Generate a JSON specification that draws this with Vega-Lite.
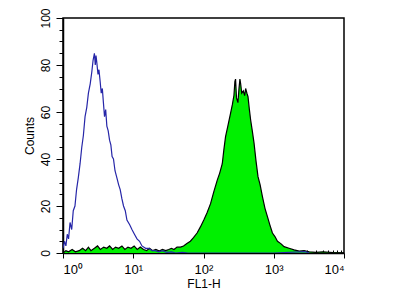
{
  "$schema": "https://vega.github.io/schema/vega-lite/v6.json",
  "width": 281,
  "height": 235,
  "autosize": {"type": "none"},
  "padding": {"left": 63, "top": 18, "right": 56, "bottom": 53},
  "background": "white",
  "config": {
    "view": {"stroke": "black", "strokeWidth": 1.5},
    "font": "Liberation Sans",
    "axis": {"grid": false, "domainColor": "black", "tickColor": "black", "labelColor": "black", "titleColor": "black", "labelFont": "Liberation Sans", "titleFont": "Liberation Sans", "titleFontWeight": "normal"}
  },
  "datasets": {
    "blue": [
      {"fl1": 1.0, "count": 2}, {"fl1": 1.05, "count": 5}, {"fl1": 1.1, "count": 3}, {"fl1": 1.15, "count": 8},
      {"fl1": 1.2, "count": 6}, {"fl1": 1.26, "count": 13}, {"fl1": 1.33, "count": 10}, {"fl1": 1.4, "count": 18},
      {"fl1": 1.48, "count": 20}, {"fl1": 1.56, "count": 27}, {"fl1": 1.65, "count": 32}, {"fl1": 1.75, "count": 38},
      {"fl1": 1.85, "count": 45}, {"fl1": 1.95, "count": 50}, {"fl1": 2.06, "count": 58}, {"fl1": 2.18, "count": 62},
      {"fl1": 2.3, "count": 68}, {"fl1": 2.44, "count": 72}, {"fl1": 2.57, "count": 77}, {"fl1": 2.68, "count": 82},
      {"fl1": 2.8, "count": 85}, {"fl1": 2.88, "count": 80}, {"fl1": 2.95, "count": 84}, {"fl1": 3.03, "count": 81},
      {"fl1": 3.15, "count": 76}, {"fl1": 3.25, "count": 78}, {"fl1": 3.38, "count": 73}, {"fl1": 3.5, "count": 68},
      {"fl1": 3.63, "count": 70}, {"fl1": 3.76, "count": 64}, {"fl1": 3.9, "count": 58}, {"fl1": 4.05, "count": 61},
      {"fl1": 4.21, "count": 54}, {"fl1": 4.4, "count": 52}, {"fl1": 4.6, "count": 48}, {"fl1": 4.8, "count": 46},
      {"fl1": 5.0, "count": 41}, {"fl1": 5.23, "count": 40}, {"fl1": 5.5, "count": 35}, {"fl1": 5.85, "count": 32},
      {"fl1": 6.2, "count": 29}, {"fl1": 6.52, "count": 27}, {"fl1": 6.9, "count": 23}, {"fl1": 7.27, "count": 20},
      {"fl1": 7.7, "count": 18}, {"fl1": 8.13, "count": 14}, {"fl1": 8.9, "count": 12}, {"fl1": 9.58, "count": 10},
      {"fl1": 10.4, "count": 8}, {"fl1": 11.3, "count": 6}, {"fl1": 12.3, "count": 5}, {"fl1": 13.3, "count": 3},
      {"fl1": 15, "count": 2}, {"fl1": 16.6, "count": 2}, {"fl1": 18.5, "count": 1}, {"fl1": 20.6, "count": 1},
      {"fl1": 23, "count": 0.5}, {"fl1": 26, "count": 1}, {"fl1": 30, "count": 0.3}, {"fl1": 35, "count": 0.5},
      {"fl1": 40, "count": 0}, {"fl1": 50, "count": 0.3}, {"fl1": 60, "count": 0}, {"fl1": 100, "count": 0},
      {"fl1": 1000, "count": 0}, {"fl1": 2800, "count": 0.6}, {"fl1": 3200, "count": 0}
    ],
    "green": [
      {"fl1": 1.0, "count": 0}, {"fl1": 1.1, "count": 1}, {"fl1": 1.2, "count": 0.5}, {"fl1": 1.35, "count": 1.5},
      {"fl1": 1.5, "count": 0.5}, {"fl1": 1.7, "count": 1}, {"fl1": 1.9, "count": 2}, {"fl1": 2.1, "count": 1},
      {"fl1": 2.3, "count": 2.5}, {"fl1": 2.5, "count": 1}, {"fl1": 2.8, "count": 2}, {"fl1": 3.1, "count": 3},
      {"fl1": 3.4, "count": 1.5}, {"fl1": 3.8, "count": 2.5}, {"fl1": 4.2, "count": 2}, {"fl1": 4.6, "count": 3},
      {"fl1": 5.1, "count": 1.5}, {"fl1": 5.6, "count": 2.5}, {"fl1": 6.2, "count": 2}, {"fl1": 6.9, "count": 3},
      {"fl1": 7.6, "count": 1.5}, {"fl1": 8.4, "count": 2.5}, {"fl1": 9.3, "count": 2}, {"fl1": 10.3, "count": 3},
      {"fl1": 11.4, "count": 1.5}, {"fl1": 12.6, "count": 2.5}, {"fl1": 14, "count": 1.5}, {"fl1": 15.5, "count": 1},
      {"fl1": 17, "count": 2}, {"fl1": 19, "count": 1}, {"fl1": 21, "count": 1.5}, {"fl1": 23.5, "count": 0.8},
      {"fl1": 26, "count": 1.5}, {"fl1": 29, "count": 1}, {"fl1": 32, "count": 1.5}, {"fl1": 35, "count": 2},
      {"fl1": 38, "count": 1.5}, {"fl1": 42, "count": 2.5}, {"fl1": 47, "count": 2.5}, {"fl1": 52, "count": 3},
      {"fl1": 58, "count": 4}, {"fl1": 65, "count": 5}, {"fl1": 72, "count": 6.5}, {"fl1": 81, "count": 8.5},
      {"fl1": 90, "count": 11}, {"fl1": 101, "count": 14}, {"fl1": 112, "count": 17}, {"fl1": 126, "count": 21},
      {"fl1": 140, "count": 26}, {"fl1": 157, "count": 31}, {"fl1": 170, "count": 34}, {"fl1": 185, "count": 38},
      {"fl1": 195, "count": 44}, {"fl1": 206, "count": 49.5}, {"fl1": 222, "count": 54}, {"fl1": 243, "count": 59.5},
      {"fl1": 257, "count": 63}, {"fl1": 271, "count": 67}, {"fl1": 280, "count": 73}, {"fl1": 286, "count": 74},
      {"fl1": 295, "count": 66}, {"fl1": 309, "count": 64}, {"fl1": 320, "count": 70}, {"fl1": 330, "count": 74},
      {"fl1": 338, "count": 72}, {"fl1": 350, "count": 68}, {"fl1": 369, "count": 69}, {"fl1": 385, "count": 67},
      {"fl1": 398, "count": 70}, {"fl1": 415, "count": 68}, {"fl1": 430, "count": 66.5}, {"fl1": 450, "count": 61},
      {"fl1": 469, "count": 56.6}, {"fl1": 495, "count": 52}, {"fl1": 523, "count": 47}, {"fl1": 560, "count": 39},
      {"fl1": 597, "count": 32.5}, {"fl1": 640, "count": 29}, {"fl1": 690, "count": 24}, {"fl1": 750, "count": 19},
      {"fl1": 813, "count": 15.5}, {"fl1": 880, "count": 12}, {"fl1": 958, "count": 8.5}, {"fl1": 1040, "count": 7},
      {"fl1": 1130, "count": 5}, {"fl1": 1260, "count": 4}, {"fl1": 1403, "count": 2.7}, {"fl1": 1650, "count": 2},
      {"fl1": 1950, "count": 1.3}, {"fl1": 2300, "count": 0.8}, {"fl1": 2700, "count": 1}, {"fl1": 3200, "count": 0.5},
      {"fl1": 4000, "count": 0.3}, {"fl1": 5000, "count": 0.5}, {"fl1": 7000, "count": 0.2}, {"fl1": 10000, "count": 0}
    ]
  },
  "encoding": {
    "x": {
      "field": "fl1", "type": "quantitative",
      "scale": {"type": "log", "domain": [1, 10000], "nice": false},
      "axis": {
        "title": "FL1-H", "titleFontSize": 12, "titlePadding": 2,
        "values": [1,2,3,4,5,6,7,8,9,10,20,30,40,50,60,70,80,90,100,200,300,400,500,600,700,800,900,1000,2000,3000,4000,5000,6000,7000,8000,9000,10000],
        "labelExpr": "datum.value == 1 ? '10⁰' : datum.value == 10 ? '10¹' : datum.value == 100 ? '10²' : datum.value == 1000 ? '10³' : datum.value == 10000 ? '10⁴' : ''",
        "labelFontSize": 13, "labelPadding": 5,
        "tickSize": {"condition": {"test": "indexof([1,10,100,1000,10000], datum.value) >= 0", "value": 5}, "value": -3},
        "tickWidth": 1, "domainWidth": 1.5, "labelOverlap": false
      }
    },
    "y": {
      "field": "count", "type": "quantitative",
      "scale": {"domain": [0, 100], "nice": false},
      "axis": {
        "title": "Counts", "titleFontSize": 12, "titlePadding": 3,
        "values": [0,5,10,15,20,25,30,35,40,45,50,55,60,65,70,75,80,85,90,95,100],
        "labelExpr": "datum.value % 20 == 0 ? datum.label : ''",
        "labelAngle": -90, "labelAlign": "center", "labelBaseline": "bottom", "labelFontSize": 12, "labelPadding": 4,
        "tickSize": {"condition": {"test": "datum.value % 20 == 0", "value": 7}, "value": 4},
        "tickWidth": 1, "domainWidth": 1.5, "labelOverlap": false
      }
    }
  },
  "layer": [
    {
      "data": {"name": "green"},
      "mark": {"type": "area", "color": "#00f000", "opacity": 1, "line": {"color": "black", "strokeWidth": 1.2}, "clip": true}
    },
    {
      "data": {"name": "blue"},
      "mark": {"type": "line", "color": "#2626a8", "strokeWidth": 1.2, "clip": true}
    }
  ]
}
